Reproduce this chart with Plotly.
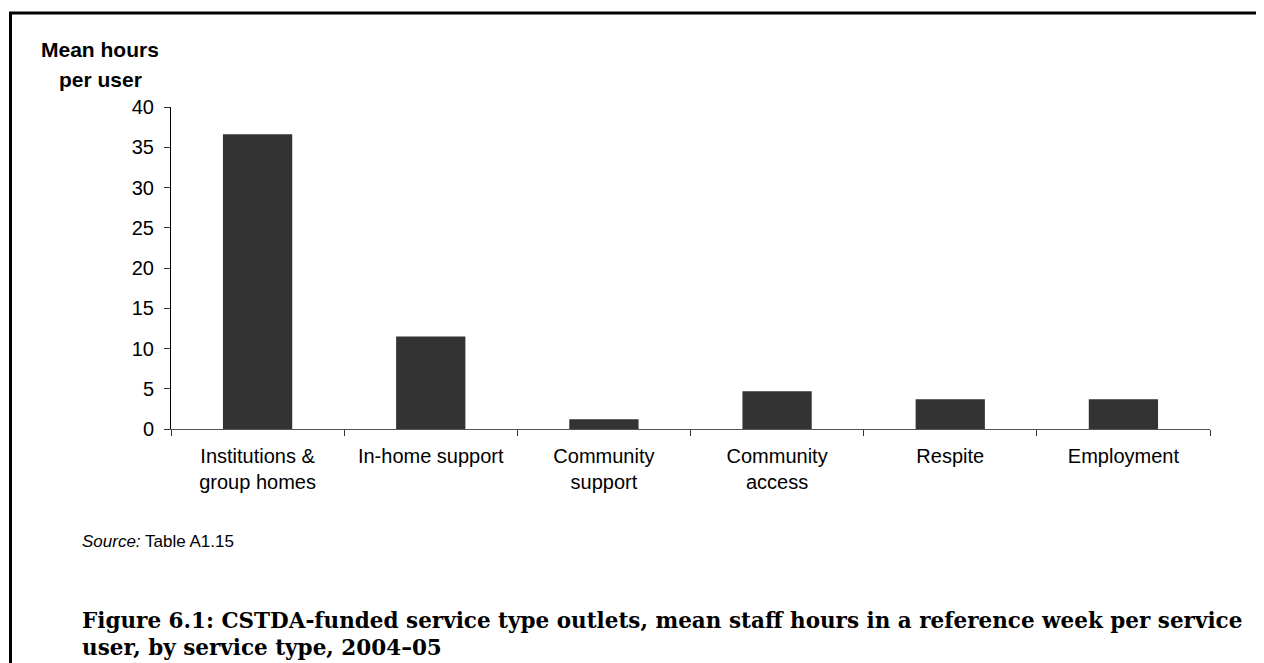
import plotly.graph_objects as go

categories = ["Institutions & group homes", "In-home support", "Community support",
              "Community access", "Respite", "Employment"]
tick_labels = ["Institutions &<br>group homes", "In-home support", "Community<br>support",
               "Community<br>access", "Respite", "Employment"]
mean_hours = [36.6, 11.5, 1.2, 4.7, 3.7, 3.7]

W, H = 1264, 663
OX, OY = 8, 8                     # page body offset
SX0, SX1, SY0, SY1 = 171, 1210, 107, 429   # plot area in screen px
L = SX0 - OX
T = SY0 - OY
pw = SX1 - SX0
ph = SY1 - SY0
R = W - L - pw
B = H - T - ph


def px(x):
    return (x - SX0) / pw


def py(y):
    return (SY1 - y) / ph


fig = go.Figure(go.Bar(x=categories, y=mean_hours, marker_color="#333333",
                       marker_line_width=0, width=0.4))

fig.update_layout(
    width=W, height=H,
    margin=dict(l=L, r=R, t=T, b=B),
    paper_bgcolor="white", plot_bgcolor="white",
    font=dict(family="Liberation Sans, Arial, sans-serif", size=20, color="black"),
    showlegend=False,
    bargap=0.6,
)
fig.update_xaxes(
    tickmode="array", tickvals=categories, ticktext=tick_labels,
    tickson="boundaries", ticks="outside", ticklen=6, tickcolor="#333",
    showline=True, linecolor="#555", linewidth=1, showgrid=False,
    tickfont=dict(size=20), ticklabelstandoff=9,
)
fig.update_yaxes(
    range=[0, 40], dtick=5, ticks="outside", ticklen=6, tickcolor="#333",
    showline=True, linecolor="black", linewidth=1, showgrid=False, zeroline=False,
    tickfont=dict(size=20), ticklabelstandoff=6,
)

fig.add_annotation(x=px(100), y=py(49), xref="paper", yref="paper",
                   text="<b>Mean hours</b>", showarrow=False, xanchor="center",
                   yanchor="middle", font=dict(size=21))
fig.add_annotation(x=px(100), y=py(79), xref="paper", yref="paper",
                   text="<b>per user</b>", showarrow=False, xanchor="center",
                   yanchor="middle", font=dict(size=21))
fig.add_annotation(x=px(80), y=py(541), xref="paper", yref="paper",
                   text="<i>Source:</i> Table A1.15", showarrow=False, xanchor="left",
                   yanchor="middle", font=dict(size=17))
fig.add_annotation(x=px(80), y=py(620), xref="paper", yref="paper",
                   text="<b>Figure 6.1: CSTDA-funded service type outlets, mean staff hours in a reference week per service</b>",
                   showarrow=False, xanchor="left", yanchor="middle",
                   font=dict(size=21.5, family="DejaVu Serif, serif"))
fig.add_annotation(x=px(80), y=py(647), xref="paper", yref="paper",
                   text="<b>user, by service type, 2004–05</b>",
                   showarrow=False, xanchor="left", yanchor="middle",
                   font=dict(size=21.5, family="DejaVu Serif, serif"))

fig.add_shape(type="rect", xref="paper", yref="paper",
              x0=px(10.5), x1=px(1290), y0=py(700), y1=py(13),
              line=dict(color="black", width=3), fillcolor="rgba(0,0,0,0)", layer="above")

fig.write_html("out.html")
